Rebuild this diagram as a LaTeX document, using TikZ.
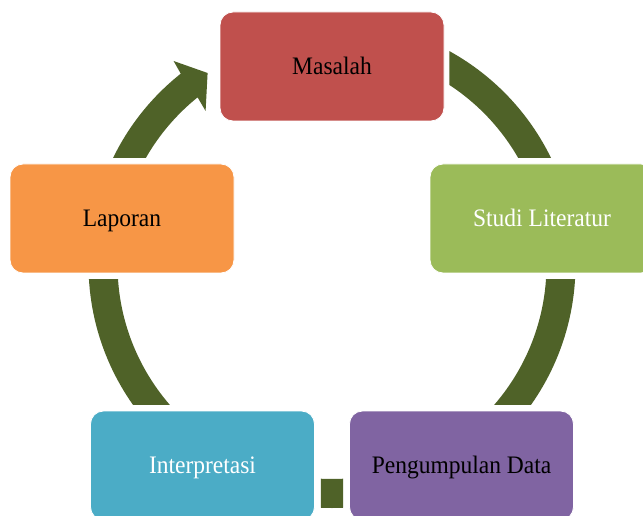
\documentclass[tikz,border=0pt]{standalone}
\usepackage{fontspec}
\setmainfont{Liberation Serif}
\usetikzlibrary{calc}
\definecolor{cRed}{HTML}{C0504D}
\definecolor{cGreen}{HTML}{9BBB59}
\definecolor{cPurple}{HTML}{8064A2}
\definecolor{cTeal}{HTML}{4BACC6}
\definecolor{cOrange}{HTML}{F79646}
\definecolor{cBand}{HTML}{4F6228}
\newcommand{\tallt}[1]{\scalebox{1}[1.07]{#1}}
\begin{document}
\begin{tikzpicture}[x=1pt,y=1pt,
  box/.style={rectangle, rounded corners=13pt, minimum width=224pt, minimum height=109pt,
    inner sep=0pt, draw=white, line width=0.8pt, text height=16.5pt, text depth=0pt,
    font=\fontsize{23.5}{28}\selectfont},
  band/.style={draw=cBand, line width=29pt}]
\useasboundingbox (0,0) rectangle (643,515);
\clip (0,0) rectangle (643,515);
\fill[white] (0,0) rectangle (643,515);
\coordinate (C) at (332,250.5);
\node[box, fill=cRed] (m) at (332,448.5) {\tallt{Masalah}};
\node[box, fill=cGreen, text=white] (s) at (542,296.5) {\tallt{Studi Literatur}};
\node[box, fill=cPurple] (p) at (461.5,49.5) {\tallt{Pengumpulan Data}};
\node[box, fill=cTeal, text=white] (i) at (202.5,49.5) {\tallt{Interpretasi}};
\node[box, fill=cOrange] (l) at (122,296.5) {\tallt{Laporan}};
% Masalah -> Studi Literatur
\begin{scope}
  \clip ($(m.east |- s.north)+(5,6)$) rectangle ($(s.north east)+(200,300)$);
  \draw[band] (C) circle[radius=229];
\end{scope}
% Studi Literatur -> Pengumpulan Data
\begin{scope}
  \clip ($(C |- p.north)+(0,6)$) rectangle ($(s.south east)+(200,-6)$);
  \draw[band] (C) circle[radius=229];
\end{scope}
% Pengumpulan Data -> Interpretasi
\begin{scope}
  \clip ($(i.south east)+(6,-50)$) rectangle ($(p.north west)+(-6,0)$);
  \draw[band] (C) circle[radius=229];
\end{scope}
% Interpretasi -> Laporan
\begin{scope}
  \clip ($(C |- i.north)+(0,6)$) rectangle ($(l.south west)+(-200,-6)$);
  \draw[band] (C) circle[radius=229];
\end{scope}
% Laporan -> Masalah (with arrowhead)
\fill[cBand] ($(C)+(150.22:214.5)$) arc[start angle=150.22, end angle=128.8, radius=214.5]
  -- ($(m.west)+(-14,-44.5)$) -- ($(m.west)+(-12,-6.5)$) -- ($(m.west)+(-46,5.5)$)
  -- ($(C)+(128.4:243.5)$) arc[start angle=128.4, end angle=154.06, radius=243.5] -- cycle;
\end{tikzpicture}
\end{document}
